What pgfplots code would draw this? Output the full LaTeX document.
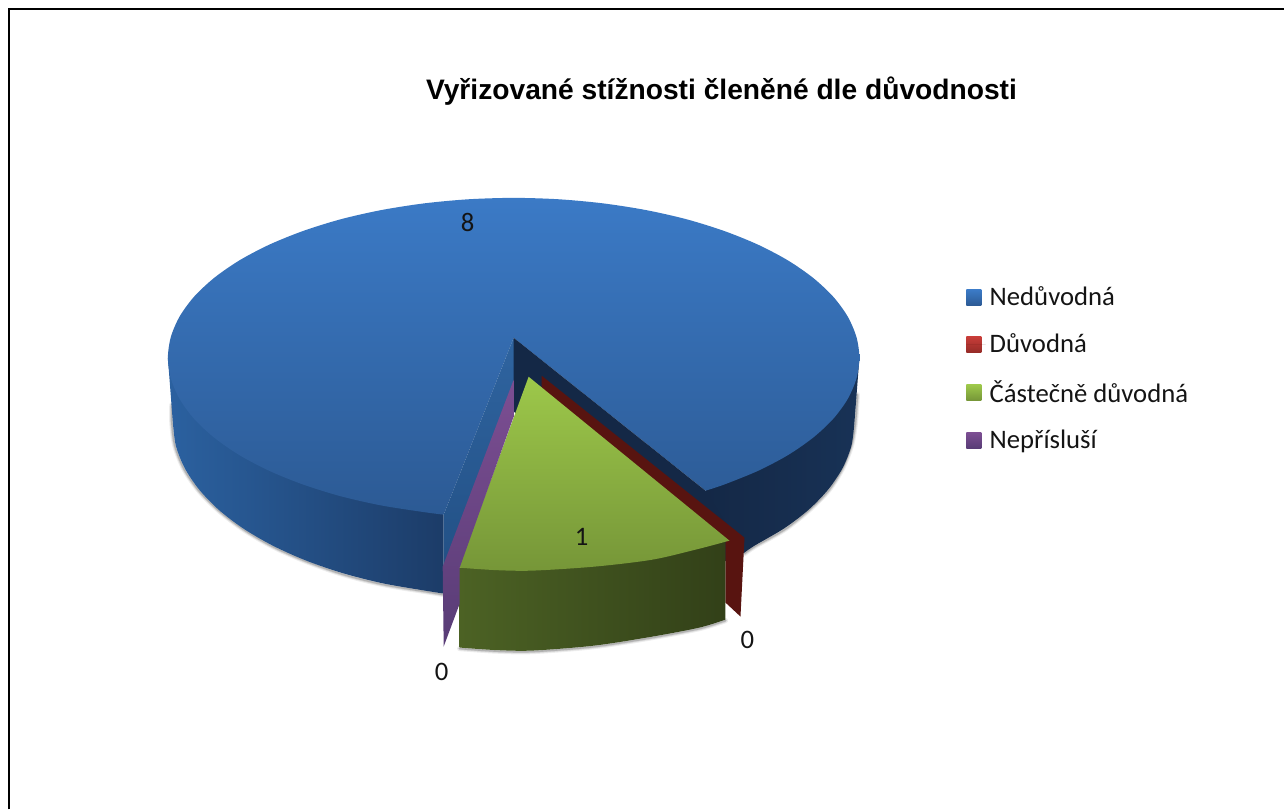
\documentclass[border=0pt]{standalone}
\usepackage{fontspec}
\setmainfont{Carlito}
\newfontfamily\titlefont{Liberation Sans}
\usepackage{pgfplots}
\pgfplotsset{compat=1.18}
\definecolor{blueTop}{RGB}{59,122,198}
\definecolor{blueBot}{RGB}{44,90,148}
\definecolor{wallA}{RGB}{43,97,160}
\definecolor{wallB}{RGB}{28,60,104}
\definecolor{navyA}{RGB}{20,40,70}
\definecolor{navyB}{RGB}{24,50,86}
\definecolor{innerA}{RGB}{47,100,160}
\definecolor{innerB}{RGB}{33,78,130}
\definecolor{redDark}{RGB}{88,20,16}
\definecolor{redA}{RGB}{200,60,56}
\definecolor{redB}{RGB}{150,44,40}
\definecolor{greenTop}{RGB}{157,200,74}
\definecolor{greenBot}{RGB}{118,150,56}
\definecolor{greenA}{RGB}{76,98,36}
\definecolor{greenB}{RGB}{50,64,24}
\definecolor{purpA}{RGB}{124,78,146}
\definecolor{purpB}{RGB}{88,60,118}
\definecolor{ink}{RGB}{20,20,20}
\pgfplotsset{
  shadow line/.style={forget plot, smooth, black, line cap=round},
  swatch/.style 2 args={legend image code/.code={
    \path[draw=none, top color=#1, bottom color=#2] (0pt,-3.9pt) rectangle (7.5pt,3.9pt);
    \path (0pt,0pt) -- (9.7pt,0pt);}},
}
\pgfplotstableread{
x y
172 405
172 423
175 446
184 469
199 491
219 511
244 530
273 547
307 562
344 575
384 585
426 592
444 595
}\shadowleft
\pgfplotstableread{
x y
745 554
755 547
785 530
809 511
829 491
843 469
852 446
856 423
858 395
}\shadowright
\pgfplotstableread{
x y
460 649
496 651.5
533 652
595 647
653 638
700 629
726 621
}\shadowgreen
\begin{document}
\begin{tikzpicture}
\begin{axis}[
  scale only axis,
  width=642.5pt, height=405pt,
  xmin=0, xmax=1285, ymin=0, ymax=810,
  y dir=reverse,
  axis lines=none,
  clip=false,
  legend cell align=left,
  legend style={at={(axis cs:967,283)}, anchor=north west, draw=none, fill=none,
    font=\fontsize{13.35}{15}\selectfont\color{ink}, row sep=8.4pt, inner sep=0pt, outer sep=0pt},
]
% frame of the chart area
\addplot[forget plot, black, line width=0.9pt] coordinates {(9,810) (9,9) (1285,9)};
\addplot[forget plot, draw=none] coordinates {(0,0) (1285,810)};

% soft shadows under the pie
\addplot[shadow line, opacity=0.07, line width=2.6pt] table {\shadowleft};
\addplot[shadow line, opacity=0.10, line width=1.6pt] table {\shadowleft};
\addplot[shadow line, opacity=0.16, line width=0.8pt] table {\shadowleft};
\addplot[shadow line, opacity=0.07, line width=2.6pt] table {\shadowright};
\addplot[shadow line, opacity=0.10, line width=1.6pt] table {\shadowright};
\addplot[shadow line, opacity=0.16, line width=0.8pt] table {\shadowright};
\addplot[shadow line, opacity=0.07, line width=2.6pt] table {\shadowgreen};
\addplot[shadow line, opacity=0.10, line width=1.6pt] table {\shadowgreen};
\addplot[shadow line, opacity=0.16, line width=0.8pt] table {\shadowgreen};

% right outer wall of the blue slice: its upper part lies under the top face
\addplot[forget plot, smooth, draw=none, left color=navyA, right color=navyB] coordinates {
  (855,423) (852.1,445.7) (843.4,468) (829,489.6) (809.3,510) (784.5,528.9) (755.1,546) (745,553)}
  -- (axis cs:706,570) -- (axis cs:706,491) -- (axis cs:860,358) -- cycle;
% left outer wall of the blue slice
\addplot[forget plot, smooth, draw=none, left color=wallA, right color=wallB] coordinates {
  (173,423) (175.9,445.7) (184.6,468) (199,489.6) (218.7,510) (243.5,528.9) (272.9,546)
  (306.4,561) (343.5,573.7) (383.5,583.8) (425.7,591.1) (444,594)}
  -- (axis cs:444,515) -- (axis cs:168,358) -- cycle;

% Neduvodna: top face
\addplot[smooth, draw=none, top color=blueTop, bottom color=blueBot,
  swatch={blueTop}{blueBot}] coordinates {
  (706,491) (724.6,484.9) (758.7,471.1) (788.5,455.4) (813.6,438)
  (833.7,419.2) (848.2,399.4) (857,378.9) (860,358) (857,337.1) (848.2,316.6) (833.7,296.8)
  (813.6,278) (788.5,260.6) (758.7,244.9) (724.6,231.1) (687,219.4) (646.4,210.2) (603.5,203.5)
  (559.2,199.4) (514,198) (468.8,199.4) (424.5,203.5) (381.6,210.2) (341,219.4)
  (303.4,231.1) (269.3,244.9) (239.5,260.6) (214.4,278) (194.3,296.8) (179.8,316.6)
  (171,337.1) (168,358) (171,378.9) (179.8,399.4) (194.3,419.2) (214.4,438) (239.5,455.4)
  (269.3,471.1) (303.4,484.9) (341,496.6) (381.6,505.8) (424.5,512.5) (444,515)}
  -- (axis cs:514,338) -- cycle;
\addlegendentry{Nedůvodná}
% inner faces of the cut
\addplot[forget plot, draw=none, top color=innerA, bottom color=innerB] coordinates {
  (514,338) (444,515) (444,594) (514,412)} -- cycle;
\addplot[forget plot, draw=none, fill=navyA] coordinates {
  (514,338) (706,491) (745,553) (514,412)} -- cycle;

% Duvodna: a sliver
\addplot[draw=none, fill=redDark, swatch={redA}{redB}] coordinates {
  (542,376) (745,538) (741,617) (726,603) (726,541) (542,388)} -- cycle;
\addlegendentry{Důvodná}

% Castecne duvodna: wall, then top
\addplot[forget plot, smooth, draw=none, left color=greenA, right color=greenB] coordinates {
  (726,620) (700,628) (653,637) (595,646) (533,651) (496,650.5) (460,648)}
  -- (axis cs:460,568) -- (axis cs:726,542) -- cycle;
\addplot[smooth, draw=none, top color=greenTop, bottom color=greenBot,
  swatch={greenTop}{greenBot}] coordinates {
  (730,541) (700,549) (653,560) (595,567) (533,571) (496,570.5) (459,568)}
  -- (axis cs:529,377) -- cycle;
\addlegendentry{Částečně důvodná}

% Neprislusi: a sliver
\addplot[draw=none, top color=purpA, bottom color=purpB, swatch={purpA}{purpB}] coordinates {
  (514,380) (443,567) (444,647) (460,604) (460,568) (514,417)} -- cycle;
\addlegendentry{Nepřísluší}

% data labels
\node[font=\fontsize{13.35}{15}\selectfont, text=ink] at (axis cs:468,223) {8};
\node[font=\fontsize{13.35}{15}\selectfont, text=ink] at (axis cs:582,537) {1};
\node[font=\fontsize{13.35}{15}\selectfont, text=ink] at (axis cs:748,640) {0};
\node[font=\fontsize{13.35}{15}\selectfont, text=ink] at (axis cs:442,672) {0};
% title
\node[font=\titlefont\bfseries\fontsize{14.1}{16}\selectfont] at (axis cs:722,91)
  {Vyřizované stížnosti členěné dle důvodnosti};
\end{axis}
\end{tikzpicture}
\end{document}
